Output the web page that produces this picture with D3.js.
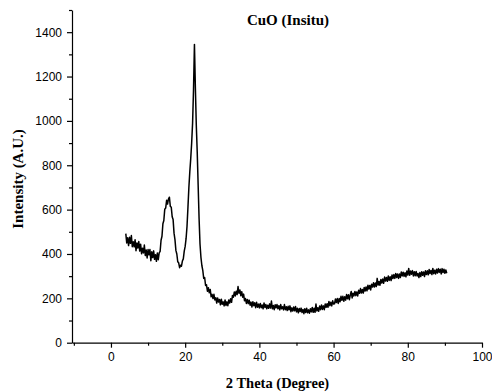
<!DOCTYPE html>
<html>
<head>
<meta charset="utf-8">
<script src="https://cdn.jsdelivr.net/npm/d3@7"></script>
<style>
  body { margin: 0; background: #fff; }
  .tick text { font-family: Arial, 'Liberation Sans', sans-serif; font-size: 12px; fill: #000; }
  .label { font-family: 'Times New Roman', 'Liberation Serif', serif; font-weight: bold; fill: #000; }
</style>
</head>
<body>
<div id="chart"></div>
<script>
// 2 theta sampling grid (degrees)
const twoTheta = [
  4, 4.25, 4.5, 4.75, 5, 5.25, 5.5, 5.75, 6, 6.25, 6.5, 6.75, 7, 7.25, 7.5, 7.75, 8, 8.25, 8.5, 8.75,
  9, 9.25, 9.5, 9.75, 10, 10.25, 10.5, 10.75, 11, 11.25, 11.5, 11.75, 12, 12.25, 12.5, 12.75, 13, 13.25, 13.5, 13.75,
  14, 14.25, 14.5, 14.75, 15, 15.25, 15.5, 15.75, 16, 16.25, 16.5, 16.75, 17, 17.25, 17.5, 17.75, 18, 18.25, 18.5, 18.75,
  19, 19.25, 19.5, 19.75, 20, 20.25, 20.5, 20.75, 21, 21.25, 21.5, 21.75, 22, 22.25, 22.5, 22.75, 23, 23.25, 23.5, 23.75,
  24, 24.25, 24.5, 24.75, 25, 25.25, 25.5, 25.75, 26, 26.25, 26.5, 26.75, 27, 27.25, 27.5, 27.75, 28, 28.25, 28.5, 28.75,
  29, 29.25, 29.5, 29.75, 30, 30.25, 30.5, 30.75, 31, 31.25, 31.5, 31.75, 32, 32.25, 32.5, 32.75, 33, 33.25, 33.5, 33.75,
  34, 34.25, 34.5, 34.75, 35, 35.25, 35.5, 35.75, 36, 36.25, 36.5, 36.75, 37, 37.25, 37.5, 37.75, 38, 38.25, 38.5, 38.75,
  39, 39.25, 39.5, 39.75, 40, 40.25, 40.5, 40.75, 41, 41.25, 41.5, 41.75, 42, 42.25, 42.5, 42.75, 43, 43.25, 43.5, 43.75,
  44, 44.25, 44.5, 44.75, 45, 45.25, 45.5, 45.75, 46, 46.25, 46.5, 46.75, 47, 47.25, 47.5, 47.75, 48, 48.25, 48.5, 48.75,
  49, 49.25, 49.5, 49.75, 50, 50.25, 50.5, 50.75, 51, 51.25, 51.5, 51.75, 52, 52.25, 52.5, 52.75, 53, 53.25, 53.5, 53.75,
  54, 54.25, 54.5, 54.75, 55, 55.25, 55.5, 55.75, 56, 56.25, 56.5, 56.75, 57, 57.25, 57.5, 57.75, 58, 58.25, 58.5, 58.75,
  59, 59.25, 59.5, 59.75, 60, 60.25, 60.5, 60.75, 61, 61.25, 61.5, 61.75, 62, 62.25, 62.5, 62.75, 63, 63.25, 63.5, 63.75,
  64, 64.25, 64.5, 64.75, 65, 65.25, 65.5, 65.75, 66, 66.25, 66.5, 66.75, 67, 67.25, 67.5, 67.75, 68, 68.25, 68.5, 68.75,
  69, 69.25, 69.5, 69.75, 70, 70.25, 70.5, 70.75, 71, 71.25, 71.5, 71.75, 72, 72.25, 72.5, 72.75, 73, 73.25, 73.5, 73.75,
  74, 74.25, 74.5, 74.75, 75, 75.25, 75.5, 75.75, 76, 76.25, 76.5, 76.75, 77, 77.25, 77.5, 77.75, 78, 78.25, 78.5, 78.75,
  79, 79.25, 79.5, 79.75, 80, 80.25, 80.5, 80.75, 81, 81.25, 81.5, 81.75, 82, 82.25, 82.5, 82.75, 83, 83.25, 83.5, 83.75,
  84, 84.25, 84.5, 84.75, 85, 85.25, 85.5, 85.75, 86, 86.25, 86.5, 86.75, 87, 87.25, 87.5, 87.75, 88, 88.25, 88.5, 88.75,
  89, 89.25, 89.5, 89.75, 90, 90.25, 90.5
];

// intensity (A.U.), point by point
const intensity = [
  // 4.0 - 13.0
  492, 450, 473, 438, 475, 448, 483, 433, 455, 432, 464, 415, 450, 427, 456, 413, 444, 401, 426, 405,
  440, 393, 418, 382, 420, 396, 420, 370, 410, 384, 414, 376, 397, 367, 404, 374, 405,
  // 13.25 - 20.0
  412, 462, 480, 536, 551, 602, 607, 642, 625, 648, 656, 614, 611, 568, 555, 494, 465, 416, 400, 365,
  360, 338, 349, 345, 368, 378, 413, 434,
  // 20.25 - 24.5
  470, 525, 610, 700, 770, 830, 900, 990, 1140, 1345, 1150, 980, 860, 710, 560, 445, 385, 348,
  // 24.75 - 40.0
  326, 290, 294, 258, 261, 232, 248, 225, 240, 207, 218, 199, 218, 193, 203, 179, 202, 183, 195, 171,
  196, 173, 184, 166, 193, 168, 184, 167, 193, 179, 198, 182, 213, 205, 229, 211, 232, 217, 253, 223,
  238, 212, 230, 205, 219, 189, 199, 177, 195, 176, 192, 169, 183, 161, 185, 167, 180, 158, 182, 160,
  174, 157,
  // 40.25 - 60.0
  177, 158, 170, 153, 179, 159, 172, 153, 169, 155, 175, 156, 188, 153, 168, 149, 171, 157, 172, 153,
  167, 148, 172, 153, 162, 148, 172, 149, 162, 145, 164, 148, 166, 140, 157, 143, 161, 144, 163, 139,
  155, 135, 154, 141, 156, 136, 150, 131, 153, 136, 155, 135, 148, 133, 153, 139, 159, 137, 155, 137,
  174, 143, 158, 142, 165, 149, 170, 150, 166, 149, 175, 160, 176, 160, 186, 167, 182, 166, 189, 174,
  // 60.25 - 90.5
  175, 197, 181, 199, 177, 199, 185, 209, 191, 209, 187, 207, 192, 217, 198, 216, 194, 215, 231, 202,
  223, 211, 231, 212, 229, 211, 236, 223, 244, 224, 240, 224, 249, 233, 251, 234, 259, 242, 258, 238,
  264, 251, 270, 251, 269, 253, 290, 260, 276, 259, 285, 269, 287, 268, 296, 278, 294, 277, 301, 281,
  297, 280, 305, 289, 307, 290, 312, 294, 310, 290, 310, 294, 319, 301, 318, 299, 315, 297, 323, 305,
  335, 304, 323, 309, 325, 301, 320, 302, 321, 301, 312, 294, 316, 298, 320, 304, 319, 298, 324, 307,
  324, 306, 330, 312, 326, 307, 335, 311, 327, 310, 331, 314, 334, 317, 331, 310, 334, 316, 331, 313,
  328, 313
];

const xTicks = [0, 20, 40, 60, 80, 100];
const xMinorTicks = [-10, 10, 30, 50, 70, 90];
const yTicks = [0, 200, 400, 600, 800, 1000, 1200, 1400];
const yMinorTicks = [100, 300, 500, 700, 900, 1100, 1300, 1500];

const chartTitle = 'CuO (Insitu)';
const xLabel = '2 Theta (Degree)';
const yLabel = 'Intensity (A.U.)';

const width = 492;
const height = 392;
const margin = { top: 10, right: 10, bottom: 49.3, left: 72 };

const svg = d3.select('#chart')
  .append('svg')
  .attr('width', width)
  .attr('height', height);

const x = d3.scaleLinear()
  .domain([-10.5, 100])
  .range([margin.left, width - margin.right]);

const y = d3.scaleLinear()
  .domain([0, 1500])
  .range([height - margin.bottom, margin.top]);

// minor ticks first, then major axes on top
svg.append('g')
  .attr('transform', 'translate(0,' + y(0) + ')')
  .call(d3.axisBottom(x).tickValues(xMinorTicks).tickSize(3).tickFormat(''))
  .call(g => g.select('.domain').remove());

svg.append('g')
  .attr('transform', 'translate(' + x(-10.5) + ',0)')
  .call(d3.axisLeft(y).tickValues(yMinorTicks).tickSize(3).tickFormat(''))
  .call(g => g.select('.domain').remove());

svg.append('g')
  .attr('transform', 'translate(0,' + y(0) + ')')
  .call(d3.axisBottom(x).tickValues(xTicks).tickSize(5).tickSizeOuter(0).tickPadding(5)
    .tickFormat(d3.format('d')));

svg.append('g')
  .attr('transform', 'translate(' + x(-10.5) + ',0)')
  .call(d3.axisLeft(y).tickValues(yTicks).tickSize(5).tickSizeOuter(0).tickPadding(5)
    .tickFormat(d3.format('d')));

svg.selectAll('.domain, .tick line')
  .attr('stroke', '#000')
  .attr('stroke-width', 1.2);

const line = d3.line()
  .x((d, i) => x(twoTheta[i]))
  .y(d => y(d));

svg.append('path')
  .datum(intensity)
  .attr('fill', 'none')
  .attr('stroke', '#000')
  .attr('stroke-width', 1.5)
  .attr('stroke-linejoin', 'round')
  .attr('d', line);

svg.append('text')
  .attr('class', 'label')
  .attr('x', 288)
  .attr('y', 25)
  .attr('text-anchor', 'middle')
  .style('font-size', '15px')
  .text(chartTitle);

svg.append('text')
  .attr('class', 'label')
  .attr('x', 277.5)
  .attr('y', 388)
  .attr('text-anchor', 'middle')
  .style('font-size', '14.5px')
  .text(xLabel);

svg.append('text')
  .attr('class', 'label')
  .attr('transform', 'translate(23,179) rotate(-90)')
  .attr('text-anchor', 'middle')
  .style('font-size', '15px')
  .text(yLabel);
</script>
</body>
</html>
